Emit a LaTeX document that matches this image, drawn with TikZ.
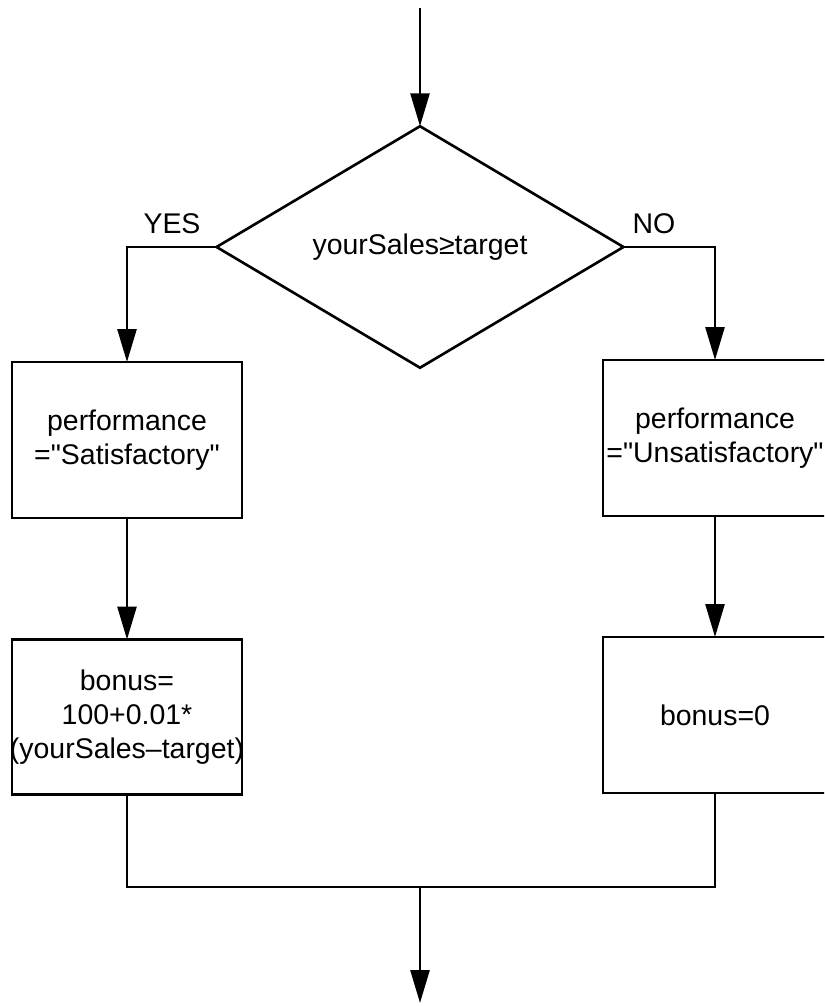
\documentclass[tikz,border=0pt]{standalone}
\usepackage{fontspec}
\setmainfont{Liberation Sans}[Ligatures=TeXOff]
\usetikzlibrary{shapes.geometric, arrows.meta, positioning}

\begin{document}
\begin{tikzpicture}[
    x=0.02cm, y=-0.02cm,
    decision/.style={
        diamond, draw=black, line width=1.5pt,
        minimum width=8.14cm, minimum height=4.8cm,
        inner sep=0pt, outer sep=0pt,
        font=\fontsize{16.2}{19.5}\selectfont
    },
    process/.style={
        rectangle, draw=black, line width=1.5pt,
        minimum height=3.12cm,
        inner sep=0pt, outer sep=0pt,
        text centered, align=center,
        font=\fontsize{16.2}{19.5}\selectfont
    },
    arrow/.style={-{Triangle[length=0.66cm, width=0.38cm]}, line width=1.5pt},
    line/.style={line width=1.5pt},
    branch/.style={font=\fontsize{16.2}{19.5}\selectfont},
]
\useasboundingbox (0,0) rectangle (824,1006);
\clip (0,0) rectangle (824,1006);

% Decisione
\node[decision] (check) at (420,247) {yourSales≥target};

% Ramo YES
\node[process, minimum width=4.6cm] (sat) at (127,440)
    {performance\\="Satisfactory"};
\node[process, minimum width=4.6cm, minimum height=3.1cm] (bonusyes) at (127,717)
    {bonus=\\100+0.01*\\\makebox[4.4cm]{(yourSales–target)}};

% Ramo NO
\node[process, minimum width=4.48cm] (unsat) at (715,438)
    {performance\\="Unsatisfactory"};
\node[process, minimum width=4.48cm] (bonusno) at (715,715)
    {bonus=0};

% Etichette rami
\node[branch] (yes) at (172,224) {YES};
\node[branch] (no)  at (654,224) {NO};

% Ingresso e uscita
\coordinate (start) at (420,8);
\coordinate (merge) at (420,887);
\coordinate (finish) at (420,1003);

%% Frecce
\draw[arrow] (start) -- (check.north);
\draw[arrow] (check.west) -| (sat.north);
\draw[arrow] (check.east) -| (unsat.north);
\draw[arrow] (sat) -- (bonusyes);
\draw[arrow] (unsat) -- (bonusno);

%% Ricongiungimento
\draw[line] (bonusyes.south) |- (merge) -| (bonusno.south);
\draw[arrow] (merge) -- (finish);

\end{tikzpicture}
\end{document}
